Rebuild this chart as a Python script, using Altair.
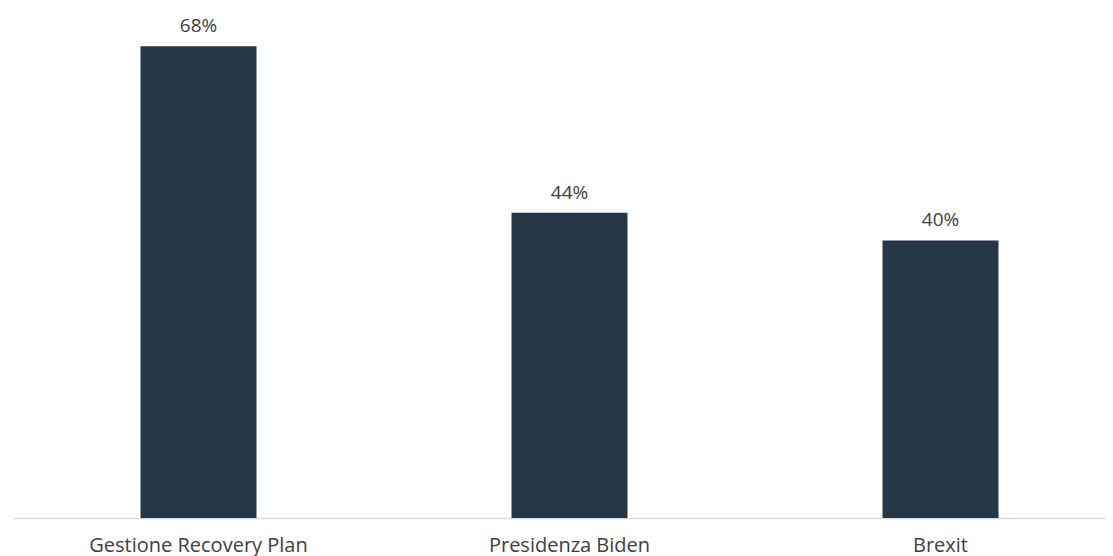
import altair as alt
import pandas as pd

categories = ["Gestione Recovery Plan", "Presidenza Biden", "Brexit"]
values = [68, 44, 40]
labels = ["68%", "44%", "40%"]

df = pd.DataFrame({"cat": categories, "val": values, "lab": labels})

FONT = "Open Sans"
BAR = "#243746"

x = alt.X("cat:N", sort=categories,
          scale=alt.Scale(range=[0, 1113], paddingInner=0, paddingOuter=0),
          axis=alt.Axis(title=None, labelAngle=0, ticks=False, domainColor="#d9d9d9",
                        domainWidth=1.5, labelFont=FONT, labelFontSize=20,
                        labelColor="#404040", labelPadding=17, labelLimit=0,
                        grid=False))
y = alt.Y("val:Q", scale=alt.Scale(domain=[0, 73.5], nice=False), axis=None)

bars = alt.Chart(df).mark_bar(width=116, color=BAR).encode(x=x, y=y)
text = alt.Chart(df).mark_text(dy=-14, baseline="alphabetic", font=FONT, fontSize=19,
                               color="#404040").encode(x=x, y=y, text="lab:N")

chart = (bars + text).properties(
    width=1092, height=510,
    background="white",
    autosize=alt.AutoSizeParams(type="none"),
    padding={"left": 5, "top": 0, "right": 0, "bottom": 38},
).configure_view(stroke=None)

chart.save("out.html", embed_options={"renderer": "svg", "actions": False})
